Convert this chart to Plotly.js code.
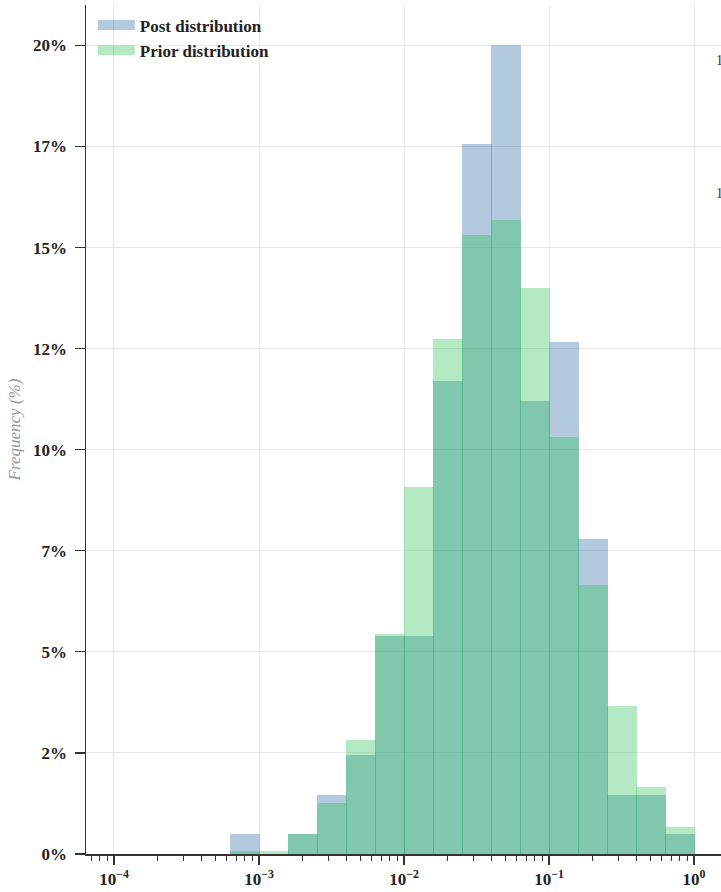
<!DOCTYPE html>
<html>
<head>
<meta charset="utf-8">
<script src="https://cdn.plot.ly/plotly-3.0.1.min.js"></script>
<style>html,body{margin:0;padding:0;background:#fff;}#chart{width:721px;height:892px;}</style>
</head>
<body>
<div id="chart"></div>
<script>
// Histogram bins: start of each bin in log10 units (bin width 0.2 decade)
const binLogStart = [-3.2, -3.0, -2.8, -2.6, -2.4, -2.2, -2.0, -1.8, -1.6, -1.4, -1.2, -1.0, -0.8, -0.6, -0.4, -0.2];
const binLogWidth = 0.2;
// Frequencies (%)
const postPct  = [0.50, 0.00, 0.50, 1.46, 2.45, 5.40, 5.40, 11.71, 17.55, 20.00, 11.21, 12.67, 7.80, 1.46, 1.46, 0.50];
const priorPct = [0.08, 0.08, 0.50, 1.26, 2.82, 5.45, 9.08, 12.75, 15.32, 15.67, 13.99, 10.32, 6.66, 3.66, 1.66, 0.67];
// Tick labels
const yTickVals = [0, 2.5, 5, 7.5, 10, 12.5, 15, 17.5, 20];
const yTickText = ['0%', '2%', '5%', '7%', '10%', '12%', '15%', '17%', '20%'];
const xDecades = [-4, -3, -2, -1, 0];
const xTickText = ['10<sup>−4</sup>', '10<sup>−3</sup>', '10<sup>−2</sup>', '10<sup>−1</sup>', '10<sup>0</sup>'];

const seam = 1 / 145; // tiny overlap so adjacent bars show a seam
const centers = binLogStart.map(s => s + binLogWidth / 2);

const minorVals = [];
for (let n = -5; n <= 0; n++) for (let k = 2; k <= 9; k++) minorVals.push(n + Math.log10(k));

const FONT = 'Liberation Serif, DejaVu Serif, serif';

const postColor = 'rgba(62,120,172,0.4)';
const priorColor = 'rgba(38,195,86,0.35)';

const traces = [
  {type: 'bar', x: centers, y: postPct, width: binLogWidth + seam, marker: {color: postColor, line: {width: 0}}, showlegend: false, hoverinfo: 'skip'},
  {type: 'bar', x: centers, y: priorPct, width: binLogWidth + seam, marker: {color: priorColor, line: {width: 0}}, showlegend: false, hoverinfo: 'skip'},
  {type: 'scatter', mode: 'lines', x: [null], y: [null], name: 'Post distribution', line: {color: postColor, width: 11}},
  {type: 'scatter', mode: 'lines', x: [null], y: [null], name: 'Prior distribution', line: {color: priorColor, width: 11}}
];

const layout = {
  width: 721, height: 892,
  margin: {l: 86, r: 0, t: 5, b: 38},
  paper_bgcolor: '#fff', plot_bgcolor: '#fff',
  barmode: 'overlay', bargap: 0,
  font: {family: FONT, color: '#222'},
  showlegend: true,
  legend: {x: 0.0107, y: 0.997, xanchor: 'left', yanchor: 'top', bgcolor: 'rgba(0,0,0,0)',
           font: {family: FONT, size: 17, weight: 'bold', color: '#222'}, itemwidth: 37, tracegroupgap: 0},
  xaxis: {
    type: 'linear', range: [-4.193, 0.186],
    tickmode: 'array', tickvals: xDecades, ticktext: xTickText,
    ticks: 'outside', ticklen: 9, tickwidth: 1.2, tickcolor: '#333',
    showline: true, linecolor: '#333', linewidth: 1.5,
    showgrid: true, gridcolor: '#e8e8e8', gridwidth: 1, zeroline: false,
    tickfont: {family: FONT, size: 17, weight: 'bold', color: '#222'},
    minor: {tickmode: 'array', tickvals: minorVals, ticks: 'outside', ticklen: 5, tickwidth: 1, tickcolor: '#333', showgrid: false}
  },
  yaxis: {
    range: [0, 21],
    tickmode: 'array', tickvals: yTickVals, ticktext: yTickText,
    ticks: 'outside', ticklen: 10, tickwidth: 1.2, tickcolor: '#333', ticklabelstandoff: 4,
    showline: true, linecolor: '#333', linewidth: 1.5,
    showgrid: true, gridcolor: '#e8e8e8', gridwidth: 1, zeroline: false,
    tickfont: {family: FONT, size: 17, weight: 'bold', color: '#222'},
    title: {text: 'Frequency (%)', font: {family: FONT, size: 17, style: 'italic', color: '#999'}, standoff: 8}
  },
  annotations: [
    {xref: 'paper', yref: 'paper', x: 1, y: 0.9456, xanchor: 'left', xshift: -7, text: '1', showarrow: false, font: {family: FONT, size: 14, color: '#333'}},
    {xref: 'paper', yref: 'paper', x: 1, y: 0.7892, xanchor: 'left', xshift: -7, text: '1', showarrow: false, font: {family: FONT, size: 14, color: '#333'}}
  ]
};

Plotly.newPlot('chart', traces, layout, {displayModeBar: false, staticPlot: true});
</script>
</body>
</html>
